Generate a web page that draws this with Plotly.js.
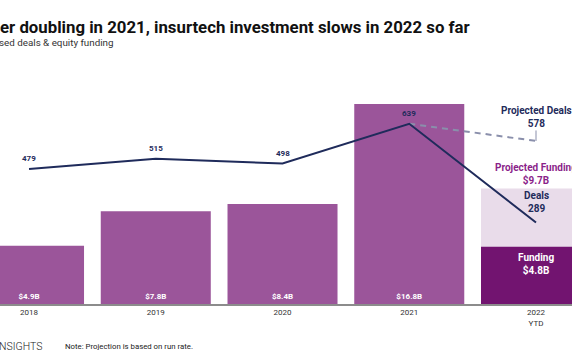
<!DOCTYPE html>
<html>
<head>
<meta charset="utf-8">
<script src="https://cdn.plot.ly/plotly-3.0.1.min.js"></script>
<style>html,body{margin:0;padding:0;background:#fff;}#chart{width:572px;height:364px;}</style>
</head>
<body>
<div id="chart"></div>
<script>
const years = ["2018", "2019", "2020", "2021", "2022<br>YTD"];
const funding = [4.9, 7.8, 8.4, 16.8, 4.8];
const fundingLabels = ["$4.9B", "$7.8B", "$8.4B", "$16.8B", ""];
const projectedFunding = [9.7];
const deals = [479, 515, 498, 639, 289];
const dealLabels = ["479", "515", "498", "639", ""];
const projectedDealsX = ["2021", "2022<br>YTD"];
const projectedDeals = [639, 578];

const navy = "#1f2b5b";
const purple = "#9b559a";
const darkPurple = "#721470";
const lightPurple = "#e9dcea";
const font = "Roboto, 'Noto Sans', sans-serif";

const traces = [
  {
    type: "bar", x: [years[4]], y: projectedFunding,
    marker: {color: lightPurple}, hoverinfo: "skip"
  },
  {
    type: "bar", x: years, y: funding,
    marker: {color: [purple, purple, purple, purple, darkPurple]},
    text: fundingLabels, textposition: "inside", insidetextanchor: "start",
    textangle: 0, constraintext: "none",
    textfont: {family: font, size: 8, color: "#ffffff", weight: 700},
    hoverinfo: "skip"
  },
  {
    type: "scatter", mode: "lines", x: projectedDealsX, y: projectedDeals, yaxis: "y2",
    line: {color: "#8a8fab", width: 2, dash: "6px,5px"}, hoverinfo: "skip"
  },
  {
    type: "scatter", mode: "lines", x: years, y: deals, yaxis: "y2",
    line: {color: navy, width: 2},
    cliponaxis: false, hoverinfo: "skip"
  }
];

// x given as category index (a numeric-looking string would be read as an index)
const dealAnnotations = years.map((yr, i) => ({
  text: dealLabels[i], xref: "x", yref: "y2", x: i, y: deals[i],
  yanchor: "middle", yshift: 10, showarrow: false,
  font: {family: font, size: 8, color: navy, weight: 700}
})).filter(a => a.text !== "");

const layout = {
  width: 572, height: 364,
  margin: {l: 0, r: 0, t: 60, b: 60, pad: 0},
  paper_bgcolor: "#ffffff", plot_bgcolor: "#ffffff",
  showlegend: false, hovermode: false,
  barmode: "overlay", bargap: 0.132,
  font: {family: font, color: "#333"},
  title: {
    text: "er doubling in 2021, insurtech investment slows in 2022 so far",
    x: 0, xanchor: "left", xref: "container",
    y: 1 - 27 / 364, yanchor: "middle", yref: "container",
    pad: {l: 0, r: 0, t: 0, b: 0},
    font: {family: font, size: 16.8, color: "#111", weight: 700}
  },
  xaxis: {
    type: "category", categoryorder: "array", categoryarray: years,
    range: [-0.229, 4.284], fixedrange: true,
    showline: true, linecolor: "#8c8c8c", linewidth: 1.5,
    ticks: "", showgrid: false, zeroline: false,
    tickfont: {family: font, size: 8, color: "#333"}
  },
  yaxis: {
    range: [0, 20.5], showgrid: false, zeroline: false,
    showticklabels: false, ticks: "", fixedrange: true
  },
  yaxis2: {
    range: [0, 865], overlaying: "y", side: "right",
    showgrid: false, zeroline: false, showticklabels: false, ticks: "", fixedrange: true
  },
  annotations: dealAnnotations.concat([
    {
      text: "sed deals & equity funding", xref: "paper", yref: "paper",
      x: 0, xanchor: "left", xshift: -3, y: (304 - 43) / 244, yanchor: "middle",
      showarrow: false, font: {family: font, size: 9.8, color: "#333"}
    },
    {
      text: "NSIGHTS", xref: "paper", yref: "paper",
      x: 0, xanchor: "left", xshift: -3, y: (304 - 346) / 244, yanchor: "middle",
      showarrow: false, font: {family: font, size: 10.5, color: "#222", weight: 300}
    },
    {
      text: "Note: Projection is based on run rate.", xref: "paper", yref: "paper",
      x: 65 / 572, xanchor: "left", xshift: -2, y: (304 - 346) / 244, yanchor: "middle",
      showarrow: false, font: {family: font, size: 7.8, color: "#222"}
    },
    {
      text: "Projected Deals<br>578", xref: "x", yref: "y2",
      x: 4, y: projectedDeals[1],
      showarrow: true, arrowhead: 0, arrowwidth: 1, arrowcolor: "#8a8fab",
      ax: 0, ay: -24, standoff: 0,
      font: {family: font, size: 10, color: navy, weight: 700}
    },
    {
      text: "Projected Funding<br>$9.7B", xref: "x", yref: "y",
      x: 4, y: projectedFunding[0], yanchor: "bottom", yshift: 1,
      showarrow: false,
      font: {family: font, size: 10, color: "#8b1f8a", weight: 700}
    },
    {
      text: "Deals<br>289", xref: "x", yref: "y2",
      x: 4, y: deals[4], yanchor: "bottom", yshift: 6,
      showarrow: false,
      font: {family: font, size: 10, color: navy, weight: 700}
    },
    {
      text: "Funding<br>$4.8B", xref: "x", yref: "y",
      x: 4, y: funding[4], yanchor: "top", yshift: -3,
      showarrow: false,
      font: {family: font, size: 10, color: "#ffffff", weight: 700}
    }
  ])
};

Plotly.newPlot("chart", traces, layout, {displayModeBar: false, staticPlot: true});
</script>
</body>
</html>
